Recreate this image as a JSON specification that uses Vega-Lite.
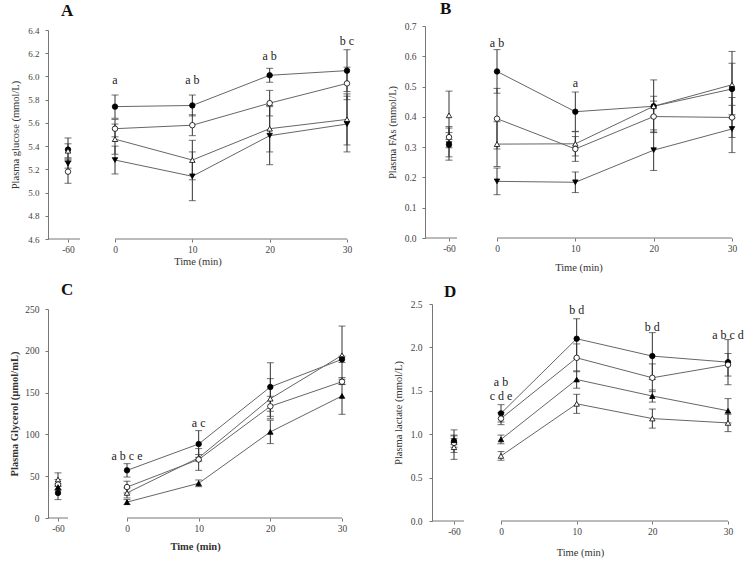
{
  "$schema": "https://vega.github.io/schema/vega-lite/v6.json",
  "padding": 0,
  "columns": 2,
  "spacing": 0,
  "bounds": "flush",
  "resolve": {"scale": {"shape": "independent", "fill": "independent"}},
  "datasets": {
    "pts": [
      {"p":"A","s":"fc","t":-60,"v":5.37,"lo":5.27,"hi":5.47},
      {"p":"A","s":"ot","t":-60,"v":5.36,"lo":5.30,"hi":5.42},
      {"p":"A","s":"ft","t":-60,"v":5.25,"lo":5.21,"hi":5.29},
      {"p":"A","s":"oc","t":-60,"v":5.18,"lo":5.08,"hi":5.28},
      {"p":"A","s":"fc","t":0,"v":5.74,"lo":5.64,"hi":5.84},
      {"p":"A","s":"oc","t":0,"v":5.55,"lo":5.48,"hi":5.63},
      {"p":"A","s":"ot","t":0,"v":5.46,"lo":5.33,"hi":5.59},
      {"p":"A","s":"ft","t":0,"v":5.28,"lo":5.16,"hi":5.40},
      {"p":"A","s":"fc","t":10,"v":5.75,"lo":5.66,"hi":5.84},
      {"p":"A","s":"oc","t":10,"v":5.58,"lo":5.49,"hi":5.67},
      {"p":"A","s":"ot","t":10,"v":5.28,"lo":5.11,"hi":5.45},
      {"p":"A","s":"ft","t":10,"v":5.14,"lo":4.93,"hi":5.35},
      {"p":"A","s":"fc","t":20,"v":6.01,"lo":5.95,"hi":6.07},
      {"p":"A","s":"oc","t":20,"v":5.77,"lo":5.66,"hi":5.88},
      {"p":"A","s":"ot","t":20,"v":5.55,"lo":5.35,"hi":5.75},
      {"p":"A","s":"ft","t":20,"v":5.49,"lo":5.24,"hi":5.74},
      {"p":"A","s":"fc","t":30,"v":6.05,"lo":5.87,"hi":6.23},
      {"p":"A","s":"oc","t":30,"v":5.94,"lo":5.80,"hi":6.08},
      {"p":"A","s":"ot","t":30,"v":5.63,"lo":5.41,"hi":5.85},
      {"p":"A","s":"ft","t":30,"v":5.59,"lo":5.35,"hi":5.83},

      {"p":"B","s":"ot","t":-60,"v":0.405,"lo":0.325,"hi":0.485},
      {"p":"B","s":"oc","t":-60,"v":0.333,"lo":0.298,"hi":0.368},
      {"p":"B","s":"ft","t":-60,"v":0.31,"lo":0.257,"hi":0.363},
      {"p":"B","s":"fc","t":-60,"v":0.308,"lo":0.268,"hi":0.348},
      {"p":"B","s":"fc","t":0,"v":0.55,"lo":0.478,"hi":0.622},
      {"p":"B","s":"oc","t":0,"v":0.394,"lo":0.294,"hi":0.494},
      {"p":"B","s":"ot","t":0,"v":0.31,"lo":0.236,"hi":0.384},
      {"p":"B","s":"ft","t":0,"v":0.187,"lo":0.143,"hi":0.231},
      {"p":"B","s":"fc","t":10,"v":0.417,"lo":0.352,"hi":0.482},
      {"p":"B","s":"ot","t":10,"v":0.311,"lo":0.271,"hi":0.351},
      {"p":"B","s":"oc","t":10,"v":0.294,"lo":0.253,"hi":0.335},
      {"p":"B","s":"ft","t":10,"v":0.184,"lo":0.150,"hi":0.218},
      {"p":"B","s":"fc","t":20,"v":0.435,"lo":0.348,"hi":0.522},
      {"p":"B","s":"ot","t":20,"v":0.435,"lo":0.402,"hi":0.468},
      {"p":"B","s":"oc","t":20,"v":0.401,"lo":0.35,"hi":0.452},
      {"p":"B","s":"ft","t":20,"v":0.29,"lo":0.223,"hi":0.357},
      {"p":"B","s":"ot","t":30,"v":0.506,"lo":0.396,"hi":0.616},
      {"p":"B","s":"fc","t":30,"v":0.492,"lo":0.407,"hi":0.577},
      {"p":"B","s":"oc","t":30,"v":0.398,"lo":0.332,"hi":0.464},
      {"p":"B","s":"ft","t":30,"v":0.36,"lo":0.282,"hi":0.438},

      {"p":"C","s":"ot","t":-60,"v":46,"lo":38,"hi":54},
      {"p":"C","s":"oc","t":-60,"v":40,"lo":34,"hi":46},
      {"p":"C","s":"ft","t":-60,"v":37,"lo":33,"hi":41},
      {"p":"C","s":"fc","t":-60,"v":30,"lo":22,"hi":38},
      {"p":"C","s":"fc","t":0,"v":57,"lo":49,"hi":65},
      {"p":"C","s":"oc","t":0,"v":37,"lo":30,"hi":44},
      {"p":"C","s":"ot","t":0,"v":30,"lo":24,"hi":36},
      {"p":"C","s":"ft","t":0,"v":19,"lo":16,"hi":22},
      {"p":"C","s":"fc","t":10,"v":88.5,"lo":72.5,"hi":104.5},
      {"p":"C","s":"ot","t":10,"v":72,"lo":68,"hi":76},
      {"p":"C","s":"oc","t":10,"v":70,"lo":57,"hi":83},
      {"p":"C","s":"ft","t":10,"v":41.5,"lo":37.5,"hi":45.5},
      {"p":"C","s":"fc","t":20,"v":156.7,"lo":127.7,"hi":185.7},
      {"p":"C","s":"ot","t":20,"v":142.7,"lo":118.7,"hi":166.7},
      {"p":"C","s":"oc","t":20,"v":133.6,"lo":121.6,"hi":145.6},
      {"p":"C","s":"ft","t":20,"v":103,"lo":89,"hi":117},
      {"p":"C","s":"ot","t":30,"v":194.6,"lo":159.6,"hi":229.6},
      {"p":"C","s":"fc","t":30,"v":189.8,"lo":186,"hi":193.6},
      {"p":"C","s":"oc","t":30,"v":163,"lo":160,"hi":166},
      {"p":"C","s":"ft","t":30,"v":146,"lo":124,"hi":168},

      {"p":"D","s":"fc","t":-60,"v":0.92,"lo":0.79,"hi":1.05},
      {"p":"D","s":"ot","t":-60,"v":0.85,"lo":0.71,"hi":0.99},
      {"p":"D","s":"oc","t":-60,"v":0.90,"lo":0.85,"hi":0.95},
      {"p":"D","s":"ft","t":-60,"v":0.93,"lo":0.88,"hi":0.98},
      {"p":"D","s":"fc","t":0,"v":1.24,"lo":1.14,"hi":1.34},
      {"p":"D","s":"oc","t":0,"v":1.18,"lo":1.11,"hi":1.25},
      {"p":"D","s":"ft","t":0,"v":0.94,"lo":0.89,"hi":0.99},
      {"p":"D","s":"ot","t":0,"v":0.75,"lo":0.70,"hi":0.80},
      {"p":"D","s":"fc","t":10,"v":2.10,"lo":1.87,"hi":2.33},
      {"p":"D","s":"oc","t":10,"v":1.88,"lo":1.72,"hi":2.04},
      {"p":"D","s":"ft","t":10,"v":1.63,"lo":1.53,"hi":1.73},
      {"p":"D","s":"ot","t":10,"v":1.35,"lo":1.24,"hi":1.46},
      {"p":"D","s":"fc","t":20,"v":1.90,"lo":1.63,"hi":2.17},
      {"p":"D","s":"oc","t":20,"v":1.65,"lo":1.49,"hi":1.81},
      {"p":"D","s":"ft","t":20,"v":1.44,"lo":1.37,"hi":1.51},
      {"p":"D","s":"ot","t":20,"v":1.18,"lo":1.07,"hi":1.29},
      {"p":"D","s":"fc","t":30,"v":1.83,"lo":1.57,"hi":2.09},
      {"p":"D","s":"oc","t":30,"v":1.80,"lo":1.67,"hi":1.93},
      {"p":"D","s":"ft","t":30,"v":1.27,"lo":1.13,"hi":1.41},
      {"p":"D","s":"ot","t":30,"v":1.13,"lo":1.03,"hi":1.23}
    ],
    "seg": [
      {"p":"A","t0":-66,"t1":-54,"yb":4.6},
      {"p":"A","t0":0,"t1":30,"yb":4.6},
      {"p":"B","t0":-66,"t1":-54,"yb":0},
      {"p":"B","t0":0,"t1":30,"yb":0},
      {"p":"C","t0":-66,"t1":-54,"yb":0},
      {"p":"C","t0":0,"t1":30,"yb":0},
      {"p":"D","t0":-66,"t1":-54,"yb":0},
      {"p":"D","t0":0,"t1":30,"yb":0}
    ],
    "lab": [
      {"p":"A","t":0,"ly":5.97,"txt":"a"},
      {"p":"A","t":10,"ly":5.97,"txt":"a b"},
      {"p":"A","t":20,"ly":6.18,"txt":"a b"},
      {"p":"A","t":30,"ly":6.305,"txt":"b c"},
      {"p":"B","t":0,"ly":0.645,"txt":"a b"},
      {"p":"B","t":10,"ly":0.512,"txt":"a"},
      {"p":"C","t":0,"ly":74.5,"txt":"a b c e"},
      {"p":"C","t":10,"ly":113.6,"txt":"a c"},
      {"p":"D","t":0,"ly":1.60,"txt":"a b"},
      {"p":"D","t":0,"ly":1.436,"txt":"c d e"},
      {"p":"D","t":10,"ly":2.43,"txt":"b d"},
      {"p":"D","t":20,"ly":2.23,"txt":"b d"},
      {"p":"D","t":30,"ly":2.144,"txt":"a b c d"}
    ]
  },
  "concat": [
    {
      "width": 372, "height": 282,
      "title": {"text": "A", "dx": 61, "dy": 23},
      "layer": [
        {"data": {"name": "seg"}, "transform": [{"filter": "datum.p == 'A'"}],
         "mark": {"type": "rule", "color": "#777", "strokeWidth": 1},
         "encoding": {
           "x": {"field": "t0", "type": "quantitative", "title": "Time (min)",
                 "scale": {"domain": [-66,-60,-54,0,30], "range": [48,68,80,115,347], "nice": false, "zero": false},
                 "axis": {"values": [-60,0,10,20,30], "labelExpr": "toString(datum.value)", "domain": false, "offset": -44, "titlePadding": 3}},
           "x2": {"field": "t1"},
           "y": {"field": "yb", "type": "quantitative", "title": "Plasma glucose (mmol/L)",
                 "scale": {"domain": [4.6,6.4], "range": [238,29], "nice": false, "zero": false},
                 "axis": {"tickCount": 9, "format": ".1f", "offset": -48, "labelPadding": 6, "titlePadding": 7, "labelOverlap": false, "labelBound": false, "labelFontSize": 9}}
         }},
        {"data": {"name": "pts"}, "transform": [{"filter": "datum.p == 'A'"}],
         "mark": {"type": "rule", "color": "#333", "strokeWidth": 1},
         "encoding": {"x": {"field": "t", "type": "quantitative", "title": "Time (min)"},
                      "y": {"field": "lo", "type": "quantitative", "title": "Plasma glucose (mmol/L)"}, "y2": {"field": "hi"}}},
        {"data": {"name": "pts"}, "transform": [{"filter": "datum.p == 'A'"}],
         "mark": {"type": "tick", "orient": "horizontal", "size": 7, "thickness": 1, "color": "#333"},
         "encoding": {"x": {"field": "t", "type": "quantitative", "title": "Time (min)"},
                      "y": {"field": "lo", "type": "quantitative", "title": "Plasma glucose (mmol/L)"}}},
        {"data": {"name": "pts"}, "transform": [{"filter": "datum.p == 'A'"}],
         "mark": {"type": "tick", "orient": "horizontal", "size": 7, "thickness": 1, "color": "#333"},
         "encoding": {"x": {"field": "t", "type": "quantitative", "title": "Time (min)"},
                      "y": {"field": "hi", "type": "quantitative", "title": "Plasma glucose (mmol/L)"}}},
        {"data": {"name": "pts"}, "transform": [{"filter": "datum.p == 'A' && datum.t >= 0"}],
         "mark": {"type": "line", "color": "#666", "strokeWidth": 1},
         "encoding": {"x": {"field": "t", "type": "quantitative", "title": "Time (min)"},
                      "y": {"field": "v", "type": "quantitative", "title": "Plasma glucose (mmol/L)"},
                      "detail": {"field": "s"}}},
        {"data": {"name": "pts"}, "transform": [{"filter": "datum.p == 'A'"}],
         "mark": {"type": "point", "filled": true, "stroke": "#000", "strokeWidth": 0.8, "size": 30, "opacity": 1},
         "encoding": {"x": {"field": "t", "type": "quantitative", "title": "Time (min)"},
                      "y": {"field": "v", "type": "quantitative", "title": "Plasma glucose (mmol/L)"},
                      "shape": {"field": "s", "type": "nominal", "legend": null, "scale": {"domain": ["fc","oc","ot","ft"], "range": ["circle","circle","triangle-up","triangle-down"]}},
                      "fill": {"field": "s", "type": "nominal", "legend": null, "scale": {"domain": ["fc","oc","ot","ft"], "range": ["#000","#fff","#fff","#000"]}}}},
        {"data": {"name": "lab"}, "transform": [{"filter": "datum.p == 'A'"}],
         "mark": {"type": "text", "font": "Liberation Serif", "fontSize": 12, "color": "#222", "baseline": "middle"},
         "encoding": {"x": {"field": "t", "type": "quantitative", "title": "Time (min)"},
                      "y": {"field": "ly", "type": "quantitative", "title": "Plasma glucose (mmol/L)"},
                      "text": {"field": "txt"}}}
      ]
    },
    {
      "width": 372, "height": 282,
      "title": {"text": "B", "dx": 68, "dy": 21},
      "layer": [
        {"data": {"name": "seg"}, "transform": [{"filter": "datum.p == 'B'"}],
         "mark": {"type": "rule", "color": "#777", "strokeWidth": 1},
         "encoding": {
           "x": {"field": "t0", "type": "quantitative", "title": "Time (min)",
                 "scale": {"domain": [-66,-60,-54,0,30], "range": [53,77,85,125,360], "nice": false, "zero": false},
                 "axis": {"values": [-60,0,10,20,30], "labelExpr": "toString(datum.value)", "domain": false, "offset": -45, "titlePadding": 10}},
           "x2": {"field": "t1"},
           "y": {"field": "yb", "type": "quantitative", "title": "Plasma FAs (mmol/L)",
                 "scale": {"domain": [0,0.7], "range": [237,25], "nice": false, "zero": false},
                 "axis": {"values": [0,0.1,0.2,0.3,0.4,0.5,0.6,0.7], "format": ".1f", "offset": -53, "labelPadding": 6, "titlePadding": 7, "labelOverlap": false, "labelBound": false}}
         }},
        {"data": {"name": "pts"}, "transform": [{"filter": "datum.p == 'B'"}],
         "mark": {"type": "rule", "color": "#333", "strokeWidth": 1},
         "encoding": {"x": {"field": "t", "type": "quantitative", "title": "Time (min)"},
                      "y": {"field": "lo", "type": "quantitative", "title": "Plasma FAs (mmol/L)"}, "y2": {"field": "hi"}}},
        {"data": {"name": "pts"}, "transform": [{"filter": "datum.p == 'B'"}],
         "mark": {"type": "tick", "orient": "horizontal", "size": 7, "thickness": 1, "color": "#333"},
         "encoding": {"x": {"field": "t", "type": "quantitative", "title": "Time (min)"},
                      "y": {"field": "lo", "type": "quantitative", "title": "Plasma FAs (mmol/L)"}}},
        {"data": {"name": "pts"}, "transform": [{"filter": "datum.p == 'B'"}],
         "mark": {"type": "tick", "orient": "horizontal", "size": 7, "thickness": 1, "color": "#333"},
         "encoding": {"x": {"field": "t", "type": "quantitative", "title": "Time (min)"},
                      "y": {"field": "hi", "type": "quantitative", "title": "Plasma FAs (mmol/L)"}}},
        {"data": {"name": "pts"}, "transform": [{"filter": "datum.p == 'B' && datum.t >= 0"}],
         "mark": {"type": "line", "color": "#666", "strokeWidth": 1},
         "encoding": {"x": {"field": "t", "type": "quantitative", "title": "Time (min)"},
                      "y": {"field": "v", "type": "quantitative", "title": "Plasma FAs (mmol/L)"},
                      "detail": {"field": "s"}}},
        {"data": {"name": "pts"}, "transform": [{"filter": "datum.p == 'B'"}],
         "mark": {"type": "point", "filled": true, "stroke": "#000", "strokeWidth": 0.8, "size": 30, "opacity": 1},
         "encoding": {"x": {"field": "t", "type": "quantitative", "title": "Time (min)"},
                      "y": {"field": "v", "type": "quantitative", "title": "Plasma FAs (mmol/L)"},
                      "shape": {"field": "s", "type": "nominal", "legend": null, "scale": {"domain": ["fc","oc","ot","ft"], "range": ["circle","circle","triangle-up","triangle-down"]}},
                      "fill": {"field": "s", "type": "nominal", "legend": null, "scale": {"domain": ["fc","oc","ot","ft"], "range": ["#000","#fff","#fff","#000"]}}}},
        {"data": {"name": "lab"}, "transform": [{"filter": "datum.p == 'B'"}],
         "mark": {"type": "text", "font": "Liberation Serif", "fontSize": 12, "color": "#222", "baseline": "middle"},
         "encoding": {"x": {"field": "t", "type": "quantitative", "title": "Time (min)"},
                      "y": {"field": "ly", "type": "quantitative", "title": "Plasma FAs (mmol/L)"},
                      "text": {"field": "txt"}}}
      ]
    },
    {
      "width": 372, "height": 282,
      "title": {"text": "C", "dx": 61, "dy": 20},
      "layer": [
        {"data": {"name": "seg"}, "transform": [{"filter": "datum.p == 'C'"}],
         "mark": {"type": "rule", "color": "#777", "strokeWidth": 1},
         "encoding": {
           "x": {"field": "t0", "type": "quantitative", "title": "Time (min)",
                 "scale": {"domain": [-66,-60,-54,0,30], "range": [48,58,68,127,342], "nice": false, "zero": false},
                 "axis": {"values": [-60,0,10,20,30], "labelExpr": "toString(datum.value)", "domain": false, "offset": -47, "titlePadding": 9, "titleFontWeight": "bold"}},
           "x2": {"field": "t1"},
           "y": {"field": "yb", "type": "quantitative", "title": "Plasma Glycerol (µmol/mL)",
                 "scale": {"domain": [0,250], "range": [235,26], "nice": false, "zero": false},
                 "axis": {"values": [0,50,100,150,200,250], "offset": -48, "labelPadding": 6, "titlePadding": 5, "titleFontWeight": "bold", "labelOverlap": false, "labelBound": false}}
         }},
        {"data": {"name": "pts"}, "transform": [{"filter": "datum.p == 'C'"}],
         "mark": {"type": "rule", "color": "#333", "strokeWidth": 1},
         "encoding": {"x": {"field": "t", "type": "quantitative", "title": "Time (min)"},
                      "y": {"field": "lo", "type": "quantitative", "title": "Plasma Glycerol (µmol/mL)"}, "y2": {"field": "hi"}}},
        {"data": {"name": "pts"}, "transform": [{"filter": "datum.p == 'C'"}],
         "mark": {"type": "tick", "orient": "horizontal", "size": 7, "thickness": 1, "color": "#333"},
         "encoding": {"x": {"field": "t", "type": "quantitative", "title": "Time (min)"},
                      "y": {"field": "lo", "type": "quantitative", "title": "Plasma Glycerol (µmol/mL)"}}},
        {"data": {"name": "pts"}, "transform": [{"filter": "datum.p == 'C'"}],
         "mark": {"type": "tick", "orient": "horizontal", "size": 7, "thickness": 1, "color": "#333"},
         "encoding": {"x": {"field": "t", "type": "quantitative", "title": "Time (min)"},
                      "y": {"field": "hi", "type": "quantitative", "title": "Plasma Glycerol (µmol/mL)"}}},
        {"data": {"name": "pts"}, "transform": [{"filter": "datum.p == 'C' && datum.t >= 0"}],
         "mark": {"type": "line", "color": "#666", "strokeWidth": 1},
         "encoding": {"x": {"field": "t", "type": "quantitative", "title": "Time (min)"},
                      "y": {"field": "v", "type": "quantitative", "title": "Plasma Glycerol (µmol/mL)"},
                      "detail": {"field": "s"}}},
        {"data": {"name": "pts"}, "transform": [{"filter": "datum.p == 'C'"}],
         "mark": {"type": "point", "filled": true, "stroke": "#000", "strokeWidth": 0.8, "size": 30, "opacity": 1},
         "encoding": {"x": {"field": "t", "type": "quantitative", "title": "Time (min)"},
                      "y": {"field": "v", "type": "quantitative", "title": "Plasma Glycerol (µmol/mL)"},
                      "shape": {"field": "s", "type": "nominal", "legend": null, "scale": {"domain": ["fc","oc","ot","ft"], "range": ["circle","circle","triangle-up","triangle-up"]}},
                      "fill": {"field": "s", "type": "nominal", "legend": null, "scale": {"domain": ["fc","oc","ot","ft"], "range": ["#000","#fff","#fff","#000"]}}}},
        {"data": {"name": "lab"}, "transform": [{"filter": "datum.p == 'C'"}],
         "mark": {"type": "text", "font": "Liberation Serif", "fontSize": 12, "color": "#222", "baseline": "middle"},
         "encoding": {"x": {"field": "t", "type": "quantitative", "title": "Time (min)"},
                      "y": {"field": "ly", "type": "quantitative", "title": "Plasma Glycerol (µmol/mL)"},
                      "text": {"field": "txt"}}}
      ]
    },
    {
      "width": 372, "height": 282,
      "title": {"text": "D", "dx": 72, "dy": 22},
      "layer": [
        {"data": {"name": "seg"}, "transform": [{"filter": "datum.p == 'D'"}],
         "mark": {"type": "rule", "color": "#777", "strokeWidth": 1},
         "encoding": {
           "x": {"field": "t0", "type": "quantitative", "title": "Time (min)",
                 "scale": {"domain": [-66,-60,-54,0,30], "range": [60,82,92,129,356], "nice": false, "zero": false},
                 "axis": {"values": [-60,0,10,20,30], "labelExpr": "toString(datum.value)", "domain": false, "offset": -44, "titlePadding": 12}},
           "x2": {"field": "t1"},
           "y": {"field": "yb", "type": "quantitative", "title": "Plasma lactate (mmol/L)",
                 "scale": {"domain": [0,2.5], "range": [238,21], "nice": false, "zero": false},
                 "axis": {"values": [0,0.5,1.0,1.5,2.0,2.5], "format": ".1f", "offset": -60, "labelPadding": 7, "titlePadding": 7, "labelOverlap": false, "labelBound": false}}
         }},
        {"data": {"name": "pts"}, "transform": [{"filter": "datum.p == 'D'"}],
         "mark": {"type": "rule", "color": "#333", "strokeWidth": 1},
         "encoding": {"x": {"field": "t", "type": "quantitative", "title": "Time (min)"},
                      "y": {"field": "lo", "type": "quantitative", "title": "Plasma lactate (mmol/L)"}, "y2": {"field": "hi"}}},
        {"data": {"name": "pts"}, "transform": [{"filter": "datum.p == 'D'"}],
         "mark": {"type": "tick", "orient": "horizontal", "size": 7, "thickness": 1, "color": "#333"},
         "encoding": {"x": {"field": "t", "type": "quantitative", "title": "Time (min)"},
                      "y": {"field": "lo", "type": "quantitative", "title": "Plasma lactate (mmol/L)"}}},
        {"data": {"name": "pts"}, "transform": [{"filter": "datum.p == 'D'"}],
         "mark": {"type": "tick", "orient": "horizontal", "size": 7, "thickness": 1, "color": "#333"},
         "encoding": {"x": {"field": "t", "type": "quantitative", "title": "Time (min)"},
                      "y": {"field": "hi", "type": "quantitative", "title": "Plasma lactate (mmol/L)"}}},
        {"data": {"name": "pts"}, "transform": [{"filter": "datum.p == 'D' && datum.t >= 0"}],
         "mark": {"type": "line", "color": "#666", "strokeWidth": 1},
         "encoding": {"x": {"field": "t", "type": "quantitative", "title": "Time (min)"},
                      "y": {"field": "v", "type": "quantitative", "title": "Plasma lactate (mmol/L)"},
                      "detail": {"field": "s"}}},
        {"data": {"name": "pts"}, "transform": [{"filter": "datum.p == 'D'"}],
         "mark": {"type": "point", "filled": true, "stroke": "#000", "strokeWidth": 0.8, "size": 30, "opacity": 1},
         "encoding": {"x": {"field": "t", "type": "quantitative", "title": "Time (min)"},
                      "y": {"field": "v", "type": "quantitative", "title": "Plasma lactate (mmol/L)"},
                      "shape": {"field": "s", "type": "nominal", "legend": null, "scale": {"domain": ["fc","oc","ot","ft"], "range": ["circle","circle","triangle-up","triangle-up"]}},
                      "fill": {"field": "s", "type": "nominal", "legend": null, "scale": {"domain": ["fc","oc","ot","ft"], "range": ["#000","#fff","#fff","#000"]}}}},
        {"data": {"name": "lab"}, "transform": [{"filter": "datum.p == 'D'"}],
         "mark": {"type": "text", "font": "Liberation Serif", "fontSize": 12, "color": "#222", "baseline": "middle"},
         "encoding": {"x": {"field": "t", "type": "quantitative", "title": "Time (min)"},
                      "y": {"field": "ly", "type": "quantitative", "title": "Plasma lactate (mmol/L)"},
                      "text": {"field": "txt"}}}
      ]
    }
  ],
  "config": {
    "background": "white",
    "view": {"stroke": null},
    "axis": {"labelFont": "Liberation Serif", "labelFontSize": 9.5, "labelColor": "#444",
             "titleFont": "Liberation Serif", "titleFontSize": 10.5, "titleFontWeight": "normal", "titleColor": "#333",
             "tickColor": "#777", "domainColor": "#777", "tickSize": 3, "grid": false, "labelFlush": false, "labelOverlap": false},
    "title": {"font": "Liberation Serif", "fontSize": 17, "fontWeight": "bold", "color": "#111",
              "anchor": "start", "frame": "group", "offset": 0, "baseline": "alphabetic"}
  }
}
